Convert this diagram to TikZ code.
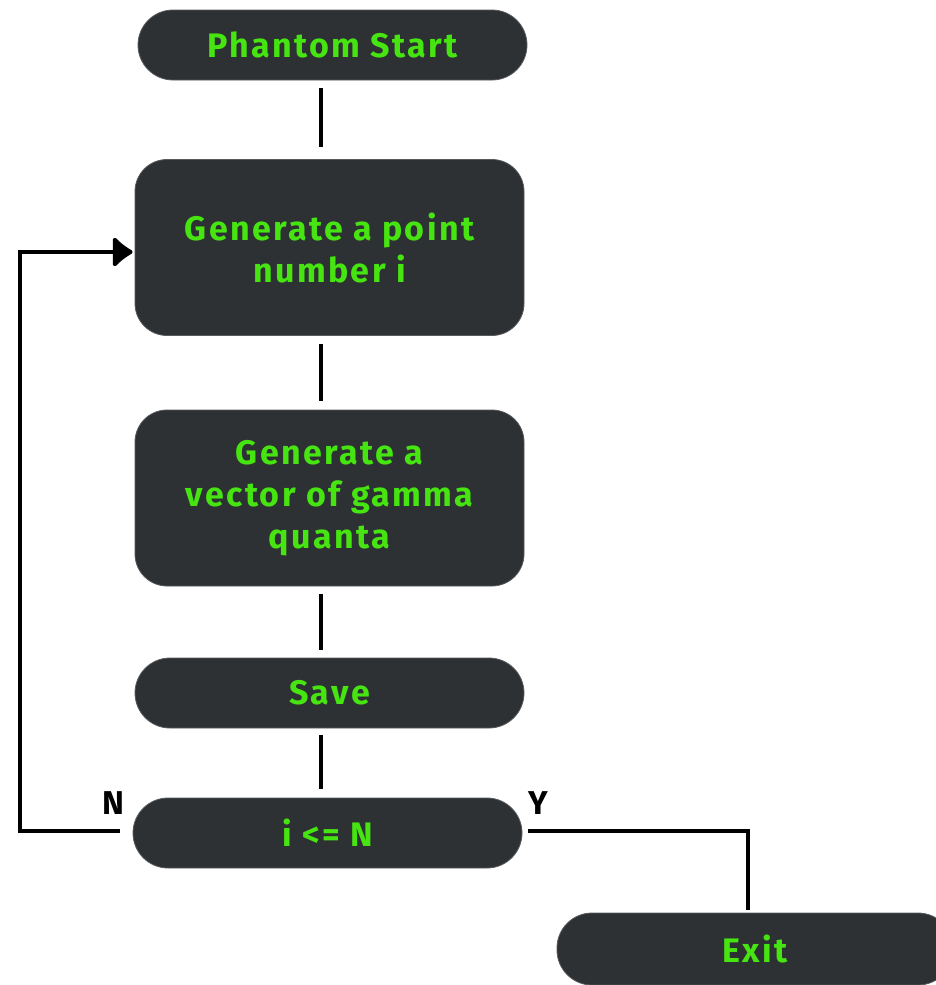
\documentclass[tikz,border=0pt]{standalone}
\usepackage{fontspec}
\setmainfont{Fira Sans}[LetterSpace=7]
\usetikzlibrary{arrows.meta}
\definecolor{boxfill}{HTML}{2E3134}
\definecolor{boxtext}{HTML}{46E410}
\tikzset{
  boxbase/.style={fill=boxfill, draw=boxfill!80!white, line width=0.8pt, text=boxtext,
    font=\fontsize{34}{42}\selectfont\bfseries, align=center, inner sep=0pt},
  pill/.style={boxbase, minimum width=389pt, minimum height=70pt, rounded corners=35pt},
  tallbox/.style={boxbase, minimum width=389pt, minimum height=176pt, rounded corners=32pt},
  conn/.style={line width=4pt, draw=black},
  lbl/.style={font=\fontsize{33}{36}\selectfont\bfseries, text=black, inner sep=0pt}
}
\begin{document}
\begin{tikzpicture}[x=1pt,y=-1pt]
\useasboundingbox (0,0) rectangle (936,985);
\begin{scope}
\clip (0,0) rectangle (936,985);
\node[pill] (start) at (332.5,45) {Phantom Start};
\node[tallbox] (gen) at (329.5,247.5) {Generate a point\\number i};
\node[tallbox] (vec) at (329.5,498) {Generate a\\vector of gamma\\quanta};
\node[pill] (save) at (329.5,693) {Save};
\node[pill] (dec) at (327.5,833) {i <= N};
\node[pill, minimum width=396pt, minimum height=72pt] (exit) at (755,949) {Exit};
\end{scope}
\coordinate (cx) at (321,0);
\coordinate (nl) at (20,831);
\coordinate (nt) at (20,252);
\coordinate (yc) at (748,831);
\draw[conn, shorten <=8pt, shorten >=12pt] (start.south -| cx) -- (gen.north -| cx);
\draw[conn, shorten <=8pt, shorten >=9pt] (gen.south -| cx) -- (vec.north -| cx);
\draw[conn, shorten <=8pt, shorten >=8pt] (vec.south -| cx) -- (save.north -| cx);
\draw[conn, shorten <=7pt, shorten >=9pt] (save.south -| cx) -- (dec.north -| cx);
\draw[conn, shorten <=13pt, shorten >=2pt, -{Latex[length=22pt,width=36pt,round]}]
  (dec.west |- nl) -- (nl) -- (nt) -- (gen.west |- nt);
\draw[conn, shorten <=6pt, shorten >=3pt] (dec.east |- yc) -- (yc) -- (exit.north -| yc);
\node[lbl] (nlab) at (113,803) {N};
\node[lbl] (ylab) at (538,803) {Y};
\end{tikzpicture}
\end{document}
